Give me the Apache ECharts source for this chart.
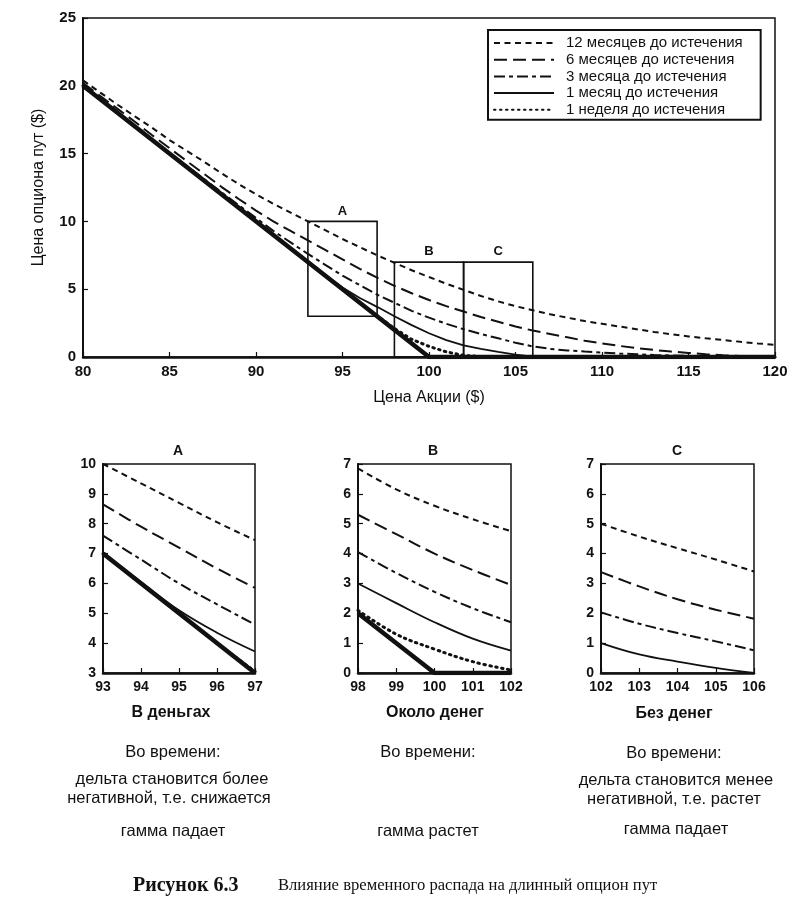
<!DOCTYPE html>
<html><head><meta charset="utf-8">
<script src="https://cdn.jsdelivr.net/npm/echarts@6/dist/echarts.min.js"></script>
<style>html,body{margin:0;padding:0;background:#fff}#c{width:807px;height:909px}</style>
</head><body><div id="c"></div>
<script>
// ---------- DATA ----------
const seriesNames = ['12 месяцев до истечения','6 месяцев до истечения','3 месяца до истечения','1 месяц до истечения','1 неделя до истечения'];
const mainPrices = [80,81,82,83,84,85,86,87,88,89,90,91,92,93,94,95,96,97,98,99,100,101,102,103,104,105,106,107,108,109,110,111,112,113,114,115,116,117,118,119,120];
const main12m = [20.4,19.5,18.6,17.75,16.9,16.0,15.2,14.4,13.55,12.75,12.0,11.3,10.65,10.0,9.35,8.7,8.1,7.5,6.95,6.4,5.9,5.4,4.95,4.5,4.1,3.75,3.45,3.15,2.9,2.65,2.45,2.25,2.05,1.85,1.68,1.52,1.38,1.25,1.12,1.0,0.9];
const main6m = [20.2,19.25,18.3,17.35,16.35,15.4,14.45,13.5,12.55,11.65,10.8,10.0,9.3,8.6,7.9,7.2,6.5,5.85,5.25,4.7,4.2,3.75,3.35,2.95,2.6,2.25,1.95,1.7,1.45,1.2,1.0,0.82,0.66,0.52,0.4,0.3,0.2,0.13,0.08,0.05,0.03];
const main3m = [20.05,19.05,18.05,17.05,16.05,15.07,14.1,13.12,12.15,11.2,10.25,9.3,8.45,7.6,6.8,6.0,5.3,4.6,4.0,3.4,2.9,2.45,2.05,1.7,1.38,1.05,0.78,0.6,0.48,0.4,0.33,0.26,0.2,0.15,0.11,0.08,0.05,0.03,0.02,0.01,0];
const main1m = [20,19,18,17,16,15,14,13,12,11,10,9,8.02,7.05,6.07,5.12,4.35,3.7,3.0,2.35,1.75,1.25,0.85,0.6,0.38,0.17,0.03,0,0,0,0,0,0,0,0,0,0,0,0,0,0];
const main1w = [20,19,18,17,16,15,14,13,12,11,10,9,8,7,6,5,4,3.05,2.1,1.3,0.78,0.38,0.12,0.03,0,0,0,0,0,0,0,0,0,0,0,0,0,0,0,0,0];
const expiryPoints = [[80,20],[100,0],[120,0]];
const boxes = [['A',93,97,3,10],['B',98,102,0,7],['C',102,106,0,7]];

const panelAPrices = [93,94,95,96,97];
const panelA12m = [10.0,9.35,8.7,8.05,7.45];
const panelA6m = [8.65,7.9,7.2,6.5,5.85];
const panelA3m = [7.6,6.8,6.0,5.3,4.62];
const panelA1m = [7.05,6.05,5.1,4.35,3.72];
const panelA1w = [7.0,6.0,5.0,4.0,3.05];
const panelAExpiry = [[93,7],[97,3]];

const panelBPrices = [98,99,100,101,102];
const panelB12m = [6.85,6.15,5.6,5.15,4.75];
const panelB6m = [5.3,4.65,4.0,3.45,2.95];
const panelB3m = [4.05,3.35,2.72,2.17,1.7];
const panelB1m = [3.0,2.34,1.7,1.15,0.75];
const panelB1w = [2.1,1.3,0.8,0.38,0.1];
const panelBExpiry = [[98,2],[100,0],[102,0]];

const panelCPrices = [102,103,104,105,106];
const panelC12m = [5.0,4.57,4.18,3.8,3.4];
const panelC6m = [3.38,2.9,2.47,2.12,1.82];
const panelC3m = [2.03,1.65,1.34,1.06,0.76];
const panelC1m = [1.0,0.62,0.38,0.17,0.0];

const panelTitles = ['A','B','C'];
const panelNames = ['В деньгах','Около денег','Без денег'];

// ---------- STYLE ----------
const INK = '#111';
const FONT = '"Liberation Sans", Arial, sans-serif';
const dash = [[6,4.5],[13,6],[11,4,4,4],'solid',[1.5,4.5]];
const widths = [2,2,2,1.8,3];

function pairs(xs, ys){ return xs.map((x,i)=>[x,ys[i]]); }

const grids = [
  {left:83, top:18, width:692, height:339},
  {left:103, top:464, width:152, height:209},
  {left:358, top:464, width:153, height:209},
  {left:601, top:464, width:153, height:209}
];
grids.forEach(g=>{g.show=true; g.borderColor=INK; g.borderWidth=1.5; g.backgroundColor='transparent';});

function xAx(gi,min,max,interval,fs,extra){
  return Object.assign({type:'value',gridIndex:gi,min,max,interval,
    axisLine:{show:true,lineStyle:{color:INK,width:2.5}},
    axisTick:{show:true,inside:true,length:5,lineStyle:{color:INK,width:1.2}},
    axisLabel:{color:INK,fontSize:fs,fontFamily:FONT,fontWeight:'bold',margin:7},
    splitLine:{show:false}},extra||{});
}
function yAx(gi,min,max,interval,fs,extra){
  return Object.assign({type:'value',gridIndex:gi,min,max,interval,
    axisLine:{show:true,lineStyle:{color:INK,width:2}},
    axisTick:{show:true,inside:true,length:5,lineStyle:{color:INK,width:1.2}},
    axisLabel:{color:INK,fontSize:fs,fontFamily:FONT,fontWeight:'bold',margin:7},
    splitLine:{show:false}},extra||{});
}

const xAxes = [
  xAx(0,80,120,5,15,{name:'Цена Акции ($)',nameLocation:'middle',nameGap:33,nameTextStyle:{color:INK,fontSize:16,fontFamily:FONT}}),
  xAx(1,93,97,1,14), xAx(2,98,102,1,14), xAx(3,102,106,1,14)
];
const yAxes = [
  yAx(0,0,25,5,15,{name:'Цена опциона пут ($)',nameLocation:'middle',nameGap:36,nameTextStyle:{color:INK,fontSize:16,fontFamily:FONT}}),
  yAx(1,3,10,1,14), yAx(2,0,7,1,14), yAx(3,0,7,1,14)
];

function lineSeries(name, data, k, gi, smooth){
  return {type:'line', name, xAxisIndex:gi, yAxisIndex:gi, data, symbol:'none', smooth:smooth?0.4:false,
    itemStyle:{color:INK},
    lineStyle:{color:INK, width:widths[k], type:dash[k], cap: k===4?'round':'butt'}, z:3, silent:true};
}
function expirySeries(data, gi){
  return {type:'line', name:'expiry', xAxisIndex:gi, yAxisIndex:gi, data, symbol:'none',
    lineStyle:{color:INK,width:4.5}, z:4, silent:true};
}

const series = [];
[main12m,main6m,main3m,main1m,main1w].forEach((ys,k)=>series.push(lineSeries(seriesNames[k], pairs(mainPrices,ys), k, 0, false)));
series.push(expirySeries(expiryPoints,0));
series.push({type:'line', name:'boxes', xAxisIndex:0, yAxisIndex:0, data:[], silent:true,
  markArea:{silent:true, itemStyle:{color:'rgba(0,0,0,0)', borderColor:INK, borderWidth:1.6},
    label:{show:true, position:'top', color:INK, fontSize:13, fontFamily:FONT, fontWeight:'bold', distance:3},
    data: boxes.map(b=>[{name:b[0], xAxis:b[1], yAxis:b[3]},{xAxis:b[2], yAxis:b[4]}])}});

[panelA12m,panelA6m,panelA3m,panelA1m,panelA1w].forEach((ys,k)=>series.push(lineSeries(seriesNames[k], pairs(panelAPrices,ys), k, 1, true)));
series.push(expirySeries(panelAExpiry,1));
[panelB12m,panelB6m,panelB3m,panelB1m,panelB1w].forEach((ys,k)=>series.push(lineSeries(seriesNames[k], pairs(panelBPrices,ys), k, 2, true)));
series.push(expirySeries(panelBExpiry,2));
[panelC12m,panelC6m,panelC3m,panelC1m].forEach((ys,k)=>series.push(lineSeries(seriesNames[k], pairs(panelCPrices,ys), k, 3, true)));

function txt(s, x, y, font){ return {type:'text', style:{text:s, x, y, textAlign:'center', textVerticalAlign:'middle', font, fill:INK}}; }
const bodyFont = '16.5px ' + FONT;
const boldFont = 'bold 16px ' + FONT;
const graphics = [
  txt(panelTitles[0], 178, 451, 'bold 14px '+FONT),
  txt(panelTitles[1], 433, 451, 'bold 14px '+FONT),
  txt(panelTitles[2], 677, 451, 'bold 14px '+FONT),
  txt(panelNames[0], 171, 713, boldFont),
  txt(panelNames[1], 435, 713, boldFont),
  txt(panelNames[2], 674, 714, boldFont),
  txt('Во времени:', 173, 752, bodyFont),
  txt('Во времени:', 428, 752, bodyFont),
  txt('Во времени:', 674, 753, bodyFont),
  txt('дельта становится более', 172, 779, bodyFont),
  txt('негативной, т.е. снижается', 169, 798, bodyFont),
  txt('дельта становится менее', 676, 780, bodyFont),
  txt('негативной, т.е. растет', 674, 799, bodyFont),
  txt('гамма падает', 173, 831, bodyFont),
  txt('гамма растет', 428, 831, bodyFont),
  txt('гамма падает', 676, 829, bodyFont),
  {type:'text', style:{text:'Рисунок 6.3', x:133, y:886, textAlign:'left', textVerticalAlign:'middle', font:'bold 20px "Liberation Serif", "Times New Roman", serif', fill:INK}},
  {type:'text', style:{text:'Влияние временного распада на длинный опцион пут', x:278, y:886, textAlign:'left', textVerticalAlign:'middle', font:'16.6px "Liberation Serif", "Times New Roman", serif', fill:INK}}
];

const chart = echarts.init(document.getElementById('c'), null, {renderer:'canvas'});
chart.setOption({
  animation:false,
  backgroundColor:'#fff',
  legend:{data:seriesNames, orient:'vertical', left:488, top:30, itemWidth:60, itemHeight:16, itemGap:0.7,
    borderColor:INK, borderWidth:2, padding:[5,18,2,5], backgroundColor:'#fff', selectedMode:false,
    itemStyle:{color:'rgba(0,0,0,0)', borderColor:'rgba(0,0,0,0)', borderWidth:0},
    textStyle:{color:INK, fontSize:15, lineHeight:16, fontFamily:FONT, padding:[0,0,0,7]}},
  grid: grids,
  xAxis: xAxes,
  yAxis: yAxes,
  series,
  graphic: graphics
});
</script></body></html>
